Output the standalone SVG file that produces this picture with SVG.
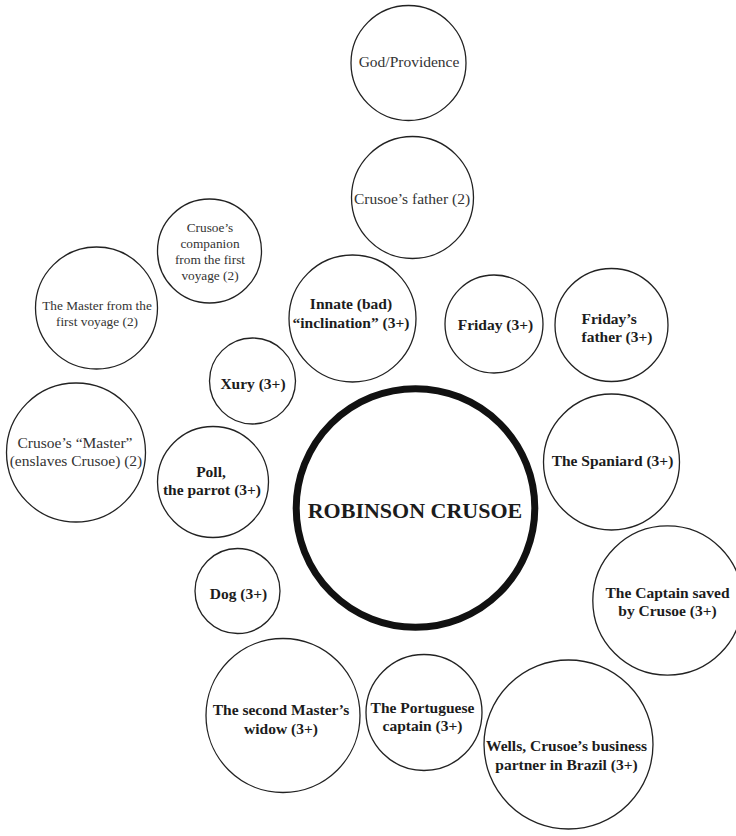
<svg xmlns="http://www.w3.org/2000/svg" width="736" height="836" viewBox="0 0 736 836">
<style>
  .c { fill: #fff; stroke: #222; stroke-width: 1.3; }
  .main { fill: #fff; stroke: #111; stroke-width: 7; }
  text { font-family: "Liberation Serif", "Times New Roman", serif; text-anchor: middle; }
  .r { font-size: 15.5px; fill: #333; }
  .s { font-size: 13.3px; fill: #333; }
  .b { font-size: 15.5px; font-weight: bold; fill: #1c1c1c; }
  .t { font-size: 22px; font-weight: bold; fill: #1c1c1c; }
</style>
<rect width="736" height="836" fill="#fff"/>
<g id="connectors"/>
<g id="god">
  <circle class="c" cx="408.5" cy="63" r="57.5"/>
  <text class="r" x="409" y="67">God/Providence</text>
</g>
<g id="father">
  <circle class="c" cx="412.5" cy="197.5" r="61"/>
  <text class="r" x="412" y="204">Crusoe’s father (2)</text>
</g>
<g id="companion">
  <circle class="c" cx="209.5" cy="251" r="52"/>
  <text class="s" x="210" y="232">Crusoe’s</text>
  <text class="s" x="210" y="248">companion</text>
  <text class="s" x="210" y="264">from the first</text>
  <text class="s" x="210" y="280">voyage (2)</text>
</g>
<g id="master-first">
  <circle class="c" cx="96.5" cy="308" r="61"/>
  <text class="s" x="97" y="310">The Master from the</text>
  <text class="s" x="97" y="326">first voyage (2)</text>
</g>
<g id="inclination">
  <circle class="c" cx="352.5" cy="318.5" r="63.5"/>
  <text class="b" x="351" y="309">Innate (bad)</text>
  <text class="b" x="351" y="327.5">“inclination” (3+)</text>
</g>
<g id="friday">
  <circle class="c" cx="494" cy="324" r="49"/>
  <text class="b" x="495.5" y="329.5">Friday (3+)</text>
</g>
<g id="fridays-father">
  <circle class="c" cx="611.5" cy="325" r="56.5"/>
  <text class="b" x="581.5" y="323.5" style="text-anchor:start">Friday’s</text>
  <text class="b" x="581.5" y="342" style="text-anchor:start">father (3+)</text>
</g>
<g id="xury">
  <circle class="c" cx="252.5" cy="381" r="43"/>
  <text class="b" x="253" y="388.5">Xury (3+)</text>
</g>
<g id="crusoes-master">
  <circle class="c" cx="76" cy="452.5" r="69.5"/>
  <text class="r" x="75" y="447.5">Crusoe’s “Master”</text>
  <text class="r" x="76" y="466">(enslaves Crusoe) (2)</text>
</g>
<g id="poll">
  <circle class="c" cx="213" cy="482" r="55.5"/>
  <text class="b" x="211" y="477">Poll,</text>
  <text class="b" x="212" y="495">the parrot (3+)</text>
</g>
<g id="robinson">
  <circle class="main" cx="415.5" cy="508" r="119.3"/>
  <text class="t" x="415" y="518">ROBINSON CRUSOE</text>
</g>
<g id="spaniard">
  <circle class="c" cx="611.5" cy="462" r="68"/>
  <text class="b" x="612.5" y="466">The Spaniard (3+)</text>
</g>
<g id="dog">
  <circle class="c" cx="237.5" cy="591" r="42.5"/>
  <text class="b" x="238.5" y="598.5">Dog (3+)</text>
</g>
<g id="captain-saved">
  <circle class="c" cx="667.5" cy="600.5" r="74.7"/>
  <text class="b" x="667.5" y="597.5">The Captain saved</text>
  <text class="b" x="667.5" y="616">by Crusoe (3+)</text>
</g>
<g id="widow">
  <circle class="c" cx="283" cy="715.5" r="77"/>
  <text class="b" x="281" y="715">The second Master’s</text>
  <text class="b" x="281" y="734">widow (3+)</text>
</g>
<g id="portuguese">
  <circle class="c" cx="424" cy="712.5" r="58"/>
  <text class="b" x="422.5" y="712.5">The Portuguese</text>
  <text class="b" x="422.5" y="731">captain (3+)</text>
</g>
<g id="wells">
  <circle class="c" cx="568.5" cy="744.5" r="84.5"/>
  <text class="b" x="566.5" y="750.5">Wells, Crusoe’s business</text>
  <text class="b" x="566.5" y="769.5">partner in Brazil (3+)</text>
</g>
</svg>
